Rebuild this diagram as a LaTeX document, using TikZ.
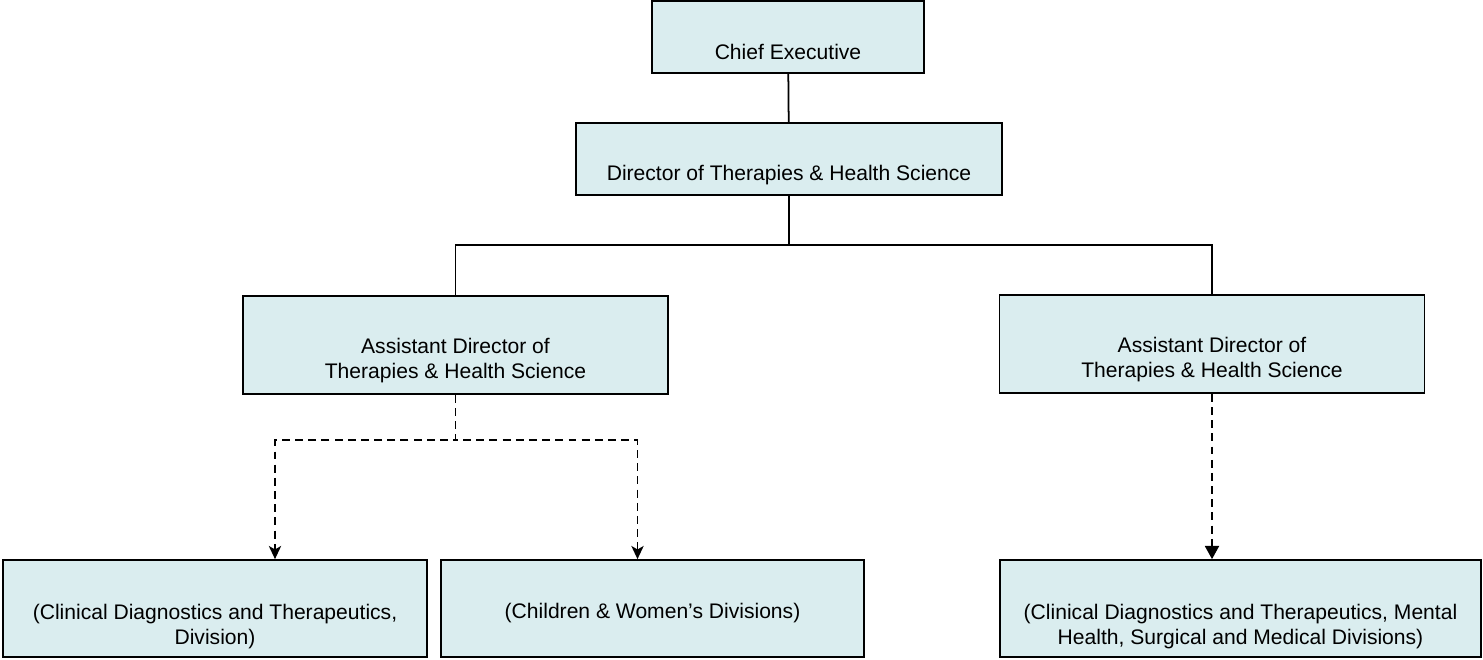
\documentclass[tikz,border=0pt]{standalone}
\usepackage{fontspec}
\setmainfont{Liberation Sans}
\usetikzlibrary{arrows.meta, positioning}
\definecolor{boxfill}{HTML}{DAEDEF}
% text sits low in the boxes
\newcommand{\lowtext}[2]{\raisebox{-#1}[0pt][0pt]{\begin{tabular}{@{}c@{}}#2\end{tabular}}}

\begin{document}
\begin{tikzpicture}[x=0.02cm, y=-0.02cm,
      post/.style={rectangle, draw, line width=1pt, fill=boxfill, font=\fontsize{12}{14.7}\selectfont, inner sep=0pt},
      top/.style={post, minimum width=5.44cm, minimum height=1.44cm},
      head/.style={post, minimum width=8.52cm, minimum height=1.44cm},
      assist/.style={post, minimum width=8.5cm, minimum height=1.96cm},
      division/.style={post, minimum width=8.48cm, minimum height=1.94cm},
      solidline/.style={line width=1pt},
      dashline/.style={line width=1pt, dash pattern=on 4.5pt off 3pt, -{Stealth[length=7.5pt, width=7pt, inset=2pt]}},
      dashtri/.style={dashline, -{Triangle[length=7.5pt, width=8pt]}}]

      \useasboundingbox (0,0) rectangle (1483,659);

      \node[top] (chief) at (788,37) {\lowtext{12.7pt}{Chief Executive}};
      \node[head] (dir) at (789,159) {\lowtext{12.3pt}{Director of Therapies \& Health Science}};
      \node[assist] (asstl) at (455.5,345) {\lowtext{12pt}{Assistant Director of\\Therapies \& Health Science}};
      \node[assist] (asstr) at (1212,344) {\lowtext{12pt}{Assistant Director of\\Therapies \& Health Science}};
      \node[division] (cdt) at (215,608.5) {\lowtext{13.4pt}{(Clinical Diagnostics and Therapeutics,\\Division)}};
      \node[division, minimum width=8.46cm] (cw) at (652.5,608.5) {\lowtext{5.8pt}{(Children \& Women’s Divisions)}};
      \node[division, minimum width=9.62cm] (mh) at (1240.5,608.5) {\lowtext{13.4pt}{(Clinical Diagnostics and Therapeutics, Mental\\Health, Surgical and Medical Divisions)}};

      % Solid lines
      \coordinate (split) at (789,245);
      \draw[solidline] (chief) -- (dir);
      \draw[solidline] (dir.south) -- (split) -| (asstl.north);
      \draw[solidline] (split) -| (asstr.north);

      % Dashed arrows
      \coordinate (dsplit) at (455.5,440);
      \draw[dashline] (asstl.south) -- (dsplit) -| ([xshift=1.2cm]cdt.north);
      \draw[dashline] (asstl.south) -- (dsplit) -| ([xshift=-0.3cm]cw.north);
      \draw[dashtri] (asstr.south) -- (asstr.south |- mh.north);
    \end{tikzpicture}
\end{document}
